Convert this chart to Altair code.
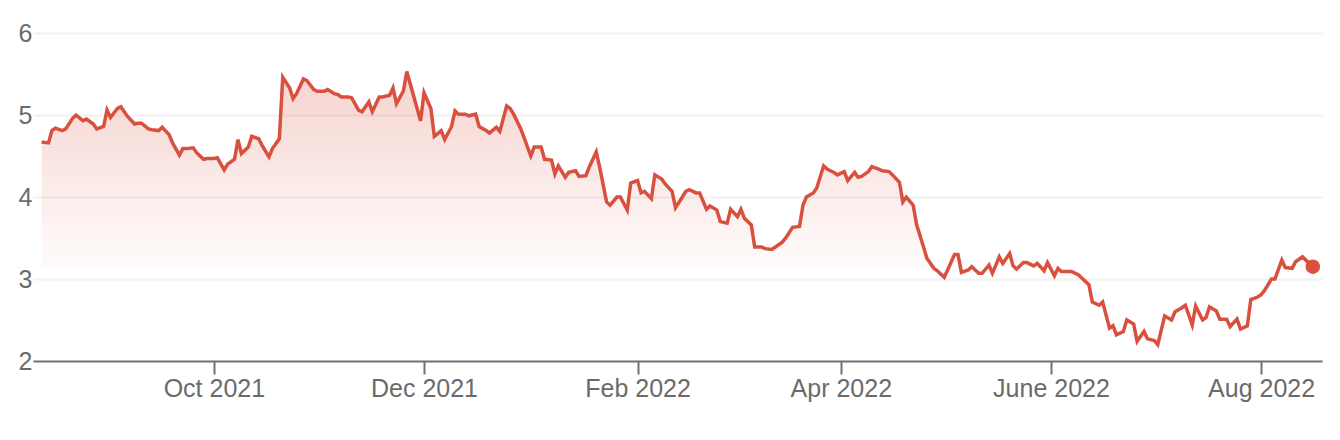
import altair as alt
import pandas as pd

DATES = [
    "2021-08-12", "2021-08-14", "2021-08-15", "2021-08-16", "2021-08-18", "2021-08-19", "2021-08-21", "2021-08-22",
    "2021-08-24", "2021-08-25", "2021-08-27", "2021-08-28", "2021-08-30", "2021-08-31", "2021-09-01", "2021-09-03",
    "2021-09-04", "2021-09-06", "2021-09-08", "2021-09-09", "2021-09-10", "2021-09-12", "2021-09-13", "2021-09-15",
    "2021-09-16", "2021-09-18", "2021-09-19", "2021-09-21", "2021-09-22", "2021-09-23", "2021-09-25", "2021-09-26",
    "2021-09-28", "2021-09-29", "2021-10-01", "2021-10-02", "2021-10-04", "2021-10-05",
    "2021-10-07", "2021-10-08", "2021-10-09", "2021-10-11", "2021-10-12", "2021-10-14", "2021-10-15", "2021-10-17",
    "2021-10-18", "2021-10-20", "2021-10-21", "2021-10-23", "2021-10-24", "2021-10-25", "2021-10-27", "2021-10-28",
    "2021-10-30", "2021-10-31", "2021-11-02", "2021-11-03", "2021-11-05", "2021-11-06", "2021-11-07", "2021-11-09",
    "2021-11-10", "2021-11-12", "2021-11-13", "2021-11-15", "2021-11-16", "2021-11-18", "2021-11-19", "2021-11-21",
    "2021-11-22", "2021-11-23", "2021-11-25", "2021-11-26",
    "2021-11-30", "2021-12-01", "2021-12-03", "2021-12-04", "2021-12-06", "2021-12-07", "2021-12-09", "2021-12-10",
    "2021-12-11", "2021-12-13", "2021-12-14", "2021-12-16", "2021-12-17", "2021-12-19", "2021-12-20", "2021-12-22",
    "2021-12-23", "2021-12-25", "2021-12-26", "2021-12-27", "2021-12-29", "2021-12-30", "2022-01-01", "2022-01-02",
    "2022-01-04", "2022-01-05", "2022-01-07", "2022-01-08", "2022-01-09", "2022-01-11", "2022-01-12", "2022-01-14",
    "2022-01-15", "2022-01-17", "2022-01-18", "2022-01-20",
    "2022-01-21", "2022-01-23", "2022-01-24", "2022-01-26", "2022-01-27", "2022-01-29", "2022-01-30", "2022-02-01",
    "2022-02-02", "2022-02-03", "2022-02-05", "2022-02-06", "2022-02-08", "2022-02-09", "2022-02-11", "2022-02-12",
    "2022-02-14", "2022-02-15", "2022-02-16", "2022-02-18", "2022-02-19", "2022-02-21", "2022-02-22", "2022-02-24",
    "2022-02-25", "2022-02-27", "2022-02-28", "2022-03-02", "2022-03-03", "2022-03-04", "2022-03-06", "2022-03-07",
    "2022-03-09", "2022-03-10", "2022-03-12", "2022-03-13", "2022-03-15", "2022-03-16",
    "2022-03-18", "2022-03-20", "2022-03-21", "2022-03-22", "2022-03-24", "2022-03-25", "2022-03-27", "2022-03-28",
    "2022-03-30", "2022-03-31", "2022-04-02", "2022-04-03", "2022-04-05", "2022-04-06", "2022-04-07", "2022-04-09",
    "2022-04-10", "2022-04-12", "2022-04-13", "2022-04-15", "2022-04-16", "2022-04-18", "2022-04-19", "2022-04-20",
    "2022-04-22", "2022-04-23", "2022-04-25", "2022-04-26", "2022-04-28", "2022-04-29", "2022-05-01", "2022-05-02",
    "2022-05-04", "2022-05-05", "2022-05-06", "2022-05-08", "2022-05-09",
    "2022-05-11", "2022-05-12", "2022-05-14", "2022-05-15", "2022-05-17", "2022-05-18", "2022-05-20", "2022-05-21",
    "2022-05-22", "2022-05-24", "2022-05-25", "2022-05-27", "2022-05-28", "2022-05-30", "2022-05-31", "2022-06-02",
    "2022-06-03", "2022-06-04", "2022-06-06", "2022-06-07", "2022-06-09", "2022-06-10", "2022-06-12", "2022-06-13",
    "2022-06-15", "2022-06-16", "2022-06-18", "2022-06-19", "2022-06-20", "2022-06-22", "2022-06-23", "2022-06-25",
    "2022-06-26", "2022-06-28", "2022-06-29", "2022-07-01",
    "2022-07-02", "2022-07-04", "2022-07-06", "2022-07-07", "2022-07-09", "2022-07-10", "2022-07-12", "2022-07-13",
    "2022-07-15", "2022-07-16", "2022-07-17", "2022-07-19", "2022-07-20", "2022-07-22", "2022-07-23", "2022-07-25",
    "2022-07-26", "2022-07-28", "2022-07-29", "2022-07-31", "2022-08-01", "2022-08-02", "2022-08-04", "2022-08-05",
    "2022-08-07", "2022-08-08", "2022-08-10", "2022-08-11", "2022-08-13", "2022-08-16",
]

PRICES = [
    4.67, 4.66, 4.81, 4.84, 4.81, 4.83, 4.96, 5.00, 4.93, 4.95,
    4.89, 4.83, 4.86, 5.06, 4.97, 5.08, 5.10, 4.98, 4.89, 4.90,
    4.90, 4.83, 4.82, 4.81, 4.85, 4.76, 4.66, 4.51, 4.59, 4.59,
    4.60, 4.54, 4.46, 4.47, 4.47, 4.48, 4.33, 4.40,
    4.46, 4.70, 4.53, 4.61, 4.74, 4.71, 4.63, 4.49, 4.59, 4.71,
    5.46, 5.33, 5.20, 5.26, 5.44, 5.42, 5.31, 5.29, 5.29, 5.31,
    5.26, 5.25, 5.22, 5.22, 5.21, 5.06, 5.04, 5.16, 5.04, 5.22,
    5.22, 5.24, 5.33, 5.14, 5.29, 5.53,
    4.93, 5.27, 5.08, 4.74, 4.81, 4.70, 4.86, 5.05, 5.01, 5.01,
    4.99, 5.01, 4.86, 4.81, 4.78, 4.85, 4.80, 5.11, 5.08, 5.01,
    4.84, 4.73, 4.50, 4.61, 4.61, 4.46, 4.45, 4.28, 4.38, 4.24,
    4.30, 4.32, 4.25, 4.26, 4.37, 4.55,
    4.36, 3.94, 3.90, 4.00, 4.00, 3.84, 4.17, 4.20, 4.05, 4.07,
    3.98, 4.27, 4.22, 4.16, 4.07, 3.87, 4.00, 4.07, 4.09, 4.05,
    4.05, 3.85, 3.89, 3.84, 3.70, 3.68, 3.85, 3.76, 3.85, 3.74,
    3.66, 3.39, 3.39, 3.37, 3.36, 3.39, 3.45, 3.50,
    3.63, 3.64, 3.90, 4.00, 4.05, 4.11, 4.38, 4.34, 4.30, 4.27,
    4.31, 4.20, 4.30, 4.24, 4.25, 4.31, 4.37, 4.34, 4.32, 4.31,
    4.27, 4.18, 3.94, 4.00, 3.90, 3.66, 3.39, 3.25, 3.13, 3.10,
    3.02, 3.11, 3.30, 3.30, 3.08, 3.11, 3.15,
    3.07, 3.07, 3.17, 3.07, 3.27, 3.19, 3.31, 3.16, 3.12, 3.20,
    3.20, 3.16, 3.19, 3.10, 3.20, 3.04, 3.13, 3.09, 3.09, 3.09,
    3.05, 3.01, 2.93, 2.72, 2.68, 2.72, 2.40, 2.43, 2.32, 2.36,
    2.50, 2.45, 2.24, 2.36, 2.27, 2.25,
    2.20, 2.55, 2.50, 2.60, 2.65, 2.68, 2.44, 2.67, 2.50, 2.53,
    2.66, 2.61, 2.51, 2.51, 2.42, 2.51, 2.39, 2.43, 2.75, 2.78,
    2.81, 2.86, 3.00, 3.00, 3.23, 3.14, 3.13, 3.21, 3.27, 3.15,
]

TICK_DATES = ["2021-10-01", "2021-12-01", "2022-02-01", "2022-04-01", "2022-06-01", "2022-08-01"]
TICK_LABELS = ["Oct 2021", "Dec 2021", "Feb 2022", "Apr 2022", "June 2022", "Aug 2022"]
Y_TICKS = [2, 3, 4, 5, 6]
Y_DOMAIN = [2, 6]
X_DOMAIN = [("2021-08-09", 12), ("2022-08-18", 16)]

LINE_COLOR = "#d9503f"
AXIS_COLOR = "#6f7377"
LABEL_COLOR = "#6b6b6b"
GRID_COLOR = "#f2f2f2"
FONT = "Liberation Sans"


def dt(s, h=0):
    y, m, d = map(int, s.split("-"))
    return alt.DateTime(year=y, month=m, date=d, hours=h, utc=True)


df = pd.DataFrame({"date": DATES, "price": PRICES})
last = df.tail(1)

label_expr = "".join(
    f"utcFormat(datum.value, '%Y-%m') == '{d[:7]}' ? '{l}' : "
    for d, l in zip(TICK_DATES, TICK_LABELS)
) + "''"

x = alt.X(
    "date:T",
    scale=alt.Scale(type="utc", domain=[dt(s, h) for s, h in X_DOMAIN]),
    axis=alt.Axis(
        values=[dt(s) for s in TICK_DATES],
        labelExpr=label_expr,
        title=None,
        grid=False,
        domain=True,
        domainColor=AXIS_COLOR,
        domainWidth=2,
        ticks=True,
        tickSize=13,
        tickWidth=2,
        tickColor=AXIS_COLOR,
        labelFontSize=25,
        labelFont=FONT,
        labelColor=LABEL_COLOR,
        labelPadding=2,
        labelOverlap=False,
        labelFlush=False,
    ),
)

y = alt.Y(
    "price:Q",
    scale=alt.Scale(domain=Y_DOMAIN, nice=False, zero=False),
    axis=alt.Axis(
        values=Y_TICKS,
        title=None,
        domain=False,
        ticks=False,
        grid=True,
        gridColor=GRID_COLOR,
        gridWidth=2,
        labelFontSize=25,
        labelFont=FONT,
        labelColor=LABEL_COLOR,
        labelPadding=1,
    ),
)

gradient = alt.LinearGradient(
    gradient="linear",
    stops=[
        alt.GradientStop(color="rgba(217,80,63,0.25)", offset=0),
        alt.GradientStop(color="rgba(217,80,63,0.02)", offset=0.67),
        alt.GradientStop(color="rgba(217,80,63,0)", offset=0.68),
        alt.GradientStop(color="rgba(217,80,63,0)", offset=1),
    ],
    x1=0, x2=0, y1=0, y2=1,
)

base = alt.Chart(df).encode(x=x, y=y)

area = base.mark_area(color=gradient).encode(y2=alt.datum(2))
line = base.mark_line(color=LINE_COLOR, strokeWidth=3.5, strokeJoin="miter")
dot = alt.Chart(last).mark_circle(color=LINE_COLOR, size=210, opacity=1).encode(x=x, y=y)

chart = (
    alt.layer(area, line, dot)
    .properties(
        width=1289,
        height=328,
        autosize=alt.AutoSizeParams(type="none"),
        padding={"left": 25, "top": 25, "right": 10, "bottom": 70},
    )
    .configure_view(stroke=None)
)

chart.save("out.html", embed_options={"renderer": "svg", "actions": False})
